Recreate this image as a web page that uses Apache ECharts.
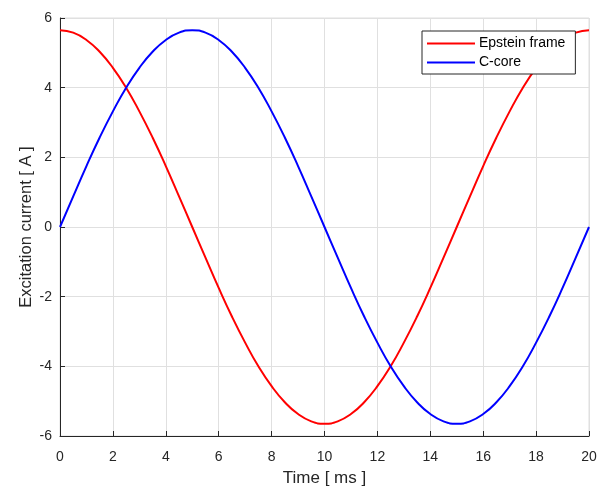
<!DOCTYPE html>
<html>
<head>
<meta charset="utf-8">
<script src="https://cdn.jsdelivr.net/npm/echarts@6/dist/echarts.min.js"></script>
<style>
  html, body { margin: 0; padding: 0; background: #fff; }
  #main { width: 600px; height: 492px; }
</style>
</head>
<body>
<div id="main"></div>
<script>
// time axis in ms, sampled every 0.5 ms
let time = [];
for (let i = 0; i <= 40; i++) time.push(i * 0.5);

let names = ['Epstein frame', 'C-core'];

// values
let epstein = [5.65, 5.58, 5.37, 5.03, 4.57, 4.00, 3.32, 2.57, 1.75, 0.88, 0,
  -0.88, -1.75, -2.57, -3.32, -4.00, -4.57, -5.03, -5.37, -5.58, -5.65,
  -5.58, -5.37, -5.03, -4.57, -4.00, -3.32, -2.57, -1.75, -0.88, 0,
  0.88, 1.75, 2.57, 3.32, 4.00, 4.57, 5.03, 5.37, 5.58, 5.65];
let ccore = [0, 0.88, 1.75, 2.57, 3.32, 4.00, 4.57, 5.03, 5.37, 5.58, 5.65,
  5.58, 5.37, 5.03, 4.57, 4.00, 3.32, 2.57, 1.75, 0.88, 0,
  -0.88, -1.75, -2.57, -3.32, -4.00, -4.57, -5.03, -5.37, -5.58, -5.65,
  -5.58, -5.37, -5.03, -4.57, -4.00, -3.32, -2.57, -1.75, -0.88, 0];

function pairs(xs, ys) {
  return xs.map((x, i) => [x, ys[i]]);
}

let chartDom = document.getElementById('main');
let myChart = echarts.init(chartDom);
let font = 'Liberation Sans, Arial, Helvetica, sans-serif';
let dark = '#262626';
let option = {
  animation: false,
  textStyle: { fontFamily: font },
  grid: {
    left: 60, right: 11, top: 18, bottom: 56,
    outerBoundsMode: 'none',
    show: true,
    borderColor: '#dedede',
    borderWidth: 1
  },
  legend: {
    data: names,
    orient: 'vertical',
    left: 422,
    top: 31,
    padding: [5, 10, 4, 5],
    itemGap: 4,
    itemWidth: 48,
    itemHeight: 2,
    icon: 'rect',
    backgroundColor: '#fff',
    borderColor: dark,
    borderWidth: 1,
    borderRadius: 0,
    textStyle: { fontSize: 14, lineHeight: 15, color: '#000', fontFamily: font, padding: [0, 0, 0, -1] }
  },
  xAxis: {
    type: 'value',
    min: 0, max: 20, interval: 2,
    name: 'Time [ ms ]',
    nameLocation: 'middle',
    nameGap: 34,
    nameMoveOverlap: false,
    nameTextStyle: { fontSize: 17, color: dark, fontFamily: font },
    axisLine: { onZero: false, lineStyle: { color: dark, width: 1 } },
    axisTick: { inside: true, length: 5, lineStyle: { color: dark } },
    axisLabel: { fontSize: 14, color: dark, margin: 14, fontFamily: font },
    splitLine: { show: true, lineStyle: { color: '#e0e0e0' } }
  },
  yAxis: {
    type: 'value',
    min: -6, max: 6, interval: 2,
    name: 'Excitation current [ A ]',
    nameLocation: 'middle',
    nameGap: 25,
    nameMoveOverlap: false,
    nameTextStyle: { fontSize: 16.5, color: dark, fontFamily: font },
    axisLine: { show: true, onZero: false, lineStyle: { color: dark, width: 1 } },
    axisTick: { show: true, inside: true, length: 5, lineStyle: { color: dark } },
    axisLabel: { fontSize: 14, color: dark, margin: 8, fontFamily: font },
    splitLine: { show: true, lineStyle: { color: '#e0e0e0' } }
  },
  series: [
    {
      name: names[0],
      type: 'line',
      data: pairs(time, epstein),
      smooth: true,
      showSymbol: false,
      itemStyle: { color: '#ff0000' },
      lineStyle: { color: '#ff0000', width: 2 },
      z: 3
    },
    {
      name: names[1],
      type: 'line',
      data: pairs(time, ccore),
      smooth: true,
      showSymbol: false,
      itemStyle: { color: '#0000ff' },
      lineStyle: { color: '#0000ff', width: 2 },
      z: 4
    }
  ]
};
option && myChart.setOption(option);
</script>
</body>
</html>
